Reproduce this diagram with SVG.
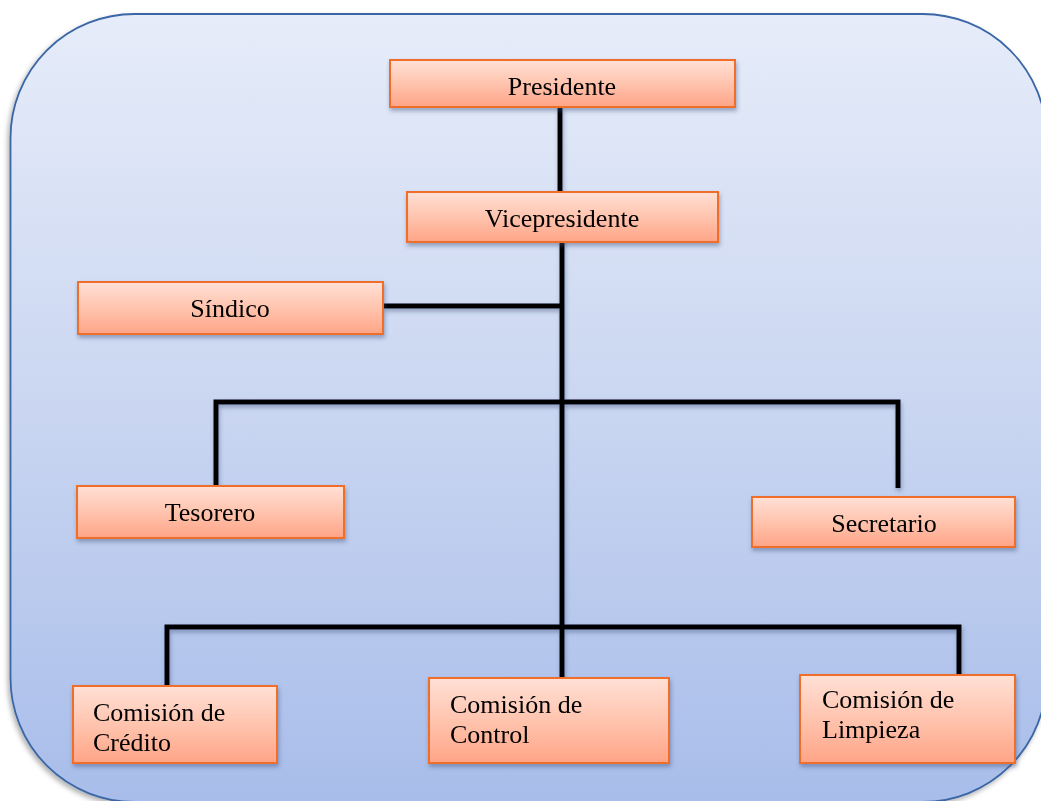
<svg xmlns="http://www.w3.org/2000/svg" width="1041" height="801" viewBox="0 0 1041 801">
  <defs>
    <linearGradient id="bg" x1="0" y1="0" x2="0" y2="1">
      <stop offset="0" stop-color="#E6ECF9"/>
      <stop offset="0.5" stop-color="#CAD6F1"/>
      <stop offset="1" stop-color="#A8BDEA"/>
    </linearGradient>
    <linearGradient id="box" x1="0" y1="0" x2="0" y2="1">
      <stop offset="0" stop-color="#FFE0D6"/>
      <stop offset="0.5" stop-color="#FFC4AE"/>
      <stop offset="1" stop-color="#FFA487"/>
    </linearGradient>
    <filter id="sh" x="-10%" y="-20%" width="130%" height="160%">
      <feGaussianBlur in="SourceAlpha" stdDeviation="2"/>
      <feOffset dx="1" dy="3" result="b"/>
      <feFlood flood-color="#3C4E78" flood-opacity="0.45"/>
      <feComposite in2="b" operator="in"/>
      <feMerge><feMergeNode/><feMergeNode in="SourceGraphic"/></feMerge>
    </filter>
    <filter id="bgsh" x="-5%" y="-5%" width="110%" height="110%">
      <feGaussianBlur in="SourceAlpha" stdDeviation="2.5"/>
      <feOffset dx="-2" dy="3" result="b"/>
      <feFlood flood-color="#000" flood-opacity="0.3"/>
      <feComposite in2="b" operator="in"/>
      <feMerge><feMergeNode/><feMergeNode in="SourceGraphic"/></feMerge>
    </filter>
  </defs>
  <style>
    .box { fill: url(#box); stroke: #EE6E2C; stroke-width: 2; }
    .t { font-family: "Liberation Serif", "Times New Roman", serif; font-size: 26px; fill: #000; }
    .c { text-anchor: middle; }
    .ln { fill: none; stroke: #000; stroke-width: 5; stroke-linejoin: miter; stroke-linecap: butt; }
  </style>
  <rect width="1041" height="801" fill="#FFFFFF"/>
  <rect x="10.5" y="14" width="1036" height="788" rx="124" ry="124" fill="url(#bg)" stroke="#3A66A6" stroke-width="1.8" filter="url(#bgsh)"/>

  <g id="connectors" filter="url(#sh)">
    <line class="ln" x1="560" y1="107" x2="560" y2="192"/>
    <line class="ln" x1="562" y1="234" x2="562" y2="679"/>
    <line class="ln" x1="383" y1="306" x2="562" y2="306"/>
    <polyline class="ln" points="216,487 216,402 898,402 898,488"/>
    <polyline class="ln" points="167,687 167,627 959,627 959,676"/>
  </g>

  <g id="presidente" filter="url(#sh)">
    <rect class="box" x="390" y="60" width="345" height="47"/>
    <text class="t c" x="562" y="95">Presidente</text>
  </g>
  <g id="vicepresidente" filter="url(#sh)">
    <rect class="box" x="407" y="192" width="311" height="50"/>
    <text class="t c" x="562" y="227">Vicepresidente</text>
  </g>
  <g id="sindico" filter="url(#sh)">
    <rect class="box" x="78" y="282" width="305" height="52"/>
    <text class="t c" x="230" y="317">Síndico</text>
  </g>
  <g id="tesorero" filter="url(#sh)">
    <rect class="box" x="77" y="486" width="267" height="52"/>
    <text class="t c" x="210" y="521">Tesorero</text>
  </g>
  <g id="secretario" filter="url(#sh)">
    <rect class="box" x="752" y="497" width="263" height="50"/>
    <text class="t c" x="884" y="532">Secretario</text>
  </g>
  <g id="comision-credito" filter="url(#sh)">
    <rect class="box" x="73" y="686" width="204" height="77"/>
    <text class="t" x="93" y="721">Comisión de</text>
    <text class="t" x="93" y="751">Crédito</text>
  </g>
  <g id="comision-control" filter="url(#sh)">
    <rect class="box" x="429" y="678" width="240" height="85"/>
    <text class="t" x="450" y="713">Comisión de</text>
    <text class="t" x="450" y="743">Control</text>
  </g>
  <g id="comision-limpieza" filter="url(#sh)">
    <rect class="box" x="800" y="675" width="215" height="88"/>
    <text class="t" x="822" y="708">Comisión de</text>
    <text class="t" x="822" y="738">Limpieza</text>
  </g>
</svg>
